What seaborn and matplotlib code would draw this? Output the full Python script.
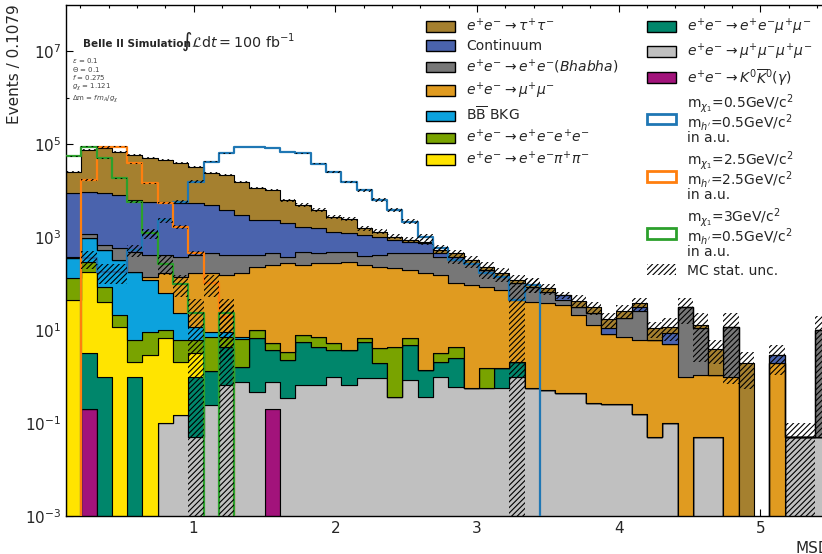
import numpy as np
import pandas as pd
import matplotlib
matplotlib.use("Agg")
import matplotlib.pyplot as plt
from matplotlib.patches import Patch
from matplotlib.ticker import FixedLocator, MultipleLocator, NullFormatter, LogFormatterMathtext
import seaborn as sns

sns.set_style("ticks")
plt.rcParams["font.family"] = ["DejaVu Sans"]
plt.rcParams["mathtext.fontset"] = "dejavusans"
plt.rcParams["hatch.linewidth"] = 0.8
plt.rcParams["hatch.color"] = "black"

HATCH = "//////"

# ---------------------------------------------------------------- binning
x_min = 0.1
bin_width = 0.1079
n_bins = 50
edges = x_min + bin_width * np.arange(n_bins + 1)
centers = 0.5 * (edges[:-1] + edges[1:])
x_range = (float(edges[0]), float(edges[-1]))

# ---------------------------------------------------------------- backgrounds (events per bin)
tautau = [16640, 64900, 72190, 60200, 51650, 43460, 39560, 33190, 27190, 18520,
          17700, 12530, 8980, 7940, 4280, 3210, 2260, 1435, 1240, 440,
          285, 153, 70, 61, 78, 70, 45, 34, 21, 16,
          14, 12, 0, 11.4, 7.9, 6.1, 8.2, 6.7, 4.95, 3.2,
          0, 1.7, 2.9, 0, 1.95, 0, 0, 0, 0, 0]
continuum = [8330, 8260, 8040, 7420, 5770, 5330, 5330, 4930, 4900, 4430,
             3390, 2560, 1910, 1870, 1590, 1190, 1090, 817, 717, 710,
             605, 415, 345, 284, 70, 57, 0, 0, 0, 0,
             0, 0, 12.6, 0, 0, 2.7, 0, 4.8, 0, 3.5,
             0, 0, 0, 0, 0, 0, 0.9, 0, 0, 0]
bhabha = [30, 223, 148, 260, 303, 270, 244, 237, 244, 281,
          258, 244, 181, 197, 105, 233, 175, 211, 188, 140,
          181, 235, 252, 281, 225, 219, 182, 110, 73, 59,
          44, 29, 9.5, 10.6, 10.1, 0, 10.6, 19.9, 0, 0,
          30.6, 10.0, 0, 10.7, 0, 0, 0, 0, 0, 10.0]
mumu = [0, 0, 0, 0, 0, 21, 104, 117, 154, 157,
        143, 159, 219, 245, 269, 242, 265, 267, 291, 243,
        225, 208, 188, 165, 149, 97, 92, 84, 71, 42,
        39.4, 37, 34, 20.6, 12.5, 7.9, 6.9, 5.9, 5.9, 4.9,
        1.0, 1.03, 1.03, 1.0, 0, 0, 1.98, 0, 0, 0]
bbbar = [218, 648, 440, 299, 174, 110, 52, 16.9, 5.7, 1.9,
         1.9, 0.6, 0, 0, 0, 0, 0, 0, 0, 0,
         0, 0, 0, 0, 0, 0, 0, 0, 0, 0,
         0, 0, 0, 0, 0, 0, 0, 0, 0, 0,
         0, 0, 0, 0, 0, 0, 0, 0, 0, 0]
eeee = [85, 110, 44.3, 9.2, 4.0, 6.2, 3.4, 4.0, 2.94, 5.87,
        2.8, 4.7, 3.4, 1.5, 1.12, 2.1, 2.8, 1.5, 0, 1.0,
        2.1, 4.04, 1.85, 0, 1.07, 1.94, 0, 0.94, 0, 0,
        0, 0, 0, 0, 0, 0, 0, 0, 0, 0,
        0, 0, 0, 0, 0, 0, 0, 0, 0, 0]
eepipi = [44, 177, 39.7, 11.8, 1.09, 2.9, 6.5, 1.93, 2.17, 0,
          0, 0, 0, 0, 0, 0, 0, 0, 0, 0,
          0, 0, 0, 0, 0, 0, 0, 0, 0, 0,
          0, 0, 0, 0, 0, 0, 0, 0, 0, 0,
          0, 0, 0, 0, 0, 0, 0, 0, 0, 0]
eemumu = [0, 2.96, 0.99, 0, 0.99, 0, 0, 0, 0.94, 1.09,
          3.74, 0.84, 6.13, 2.92, 1.94, 4.94, 3.74, 2.71, 3.04, 4.7,
          1.0, 0, 3.91, 1.02, 1.08, 1.87, 0, 0, 0.94, 1.09,
          0, 0, 0, 0, 0, 0, 0, 0, 0, 0,
          0, 0, 0, 0, 0, 0, 0, 0, 0, 0]
mumumumu = [0, 0, 0, 0, 0, 0, 0.1, 0.15, 0.05, 0.24,
            0.66, 0.78, 0.47, 0.58, 0.34, 0.66, 0.66, 0.99, 0.66, 0.92,
            0.92, 0.36, 0.84, 0.36, 1.0, 0.59, 0.56, 0.56, 0.56, 0.99,
            0.56, 0.51, 0.45, 0.44, 0.27, 0.26, 0.26, 0.16, 0.05, 0.1,
            0, 0.05, 0.05, 0, 0, 0, 0, 0.05, 0.05, 0.05]
kkbar = [0, 0.2, 0, 0, 0, 0, 0, 0, 0, 0,
         0, 0, 0, 0.2, 0, 0, 0, 0, 0, 0,
         0, 0, 0, 0, 0, 0, 0, 0, 0, 0,
         0, 0, 0, 0, 0, 0, 0, 0, 0, 0,
         0, 0, 0, 0, 0, 0, 0, 0, 0, 0]

# MC statistical uncertainty on the summed background
bkg_unc = [1000, 2800, 3200, 2800, 2500, 2200, 2000, 1700, 1500, 1100,
           1000, 800, 700, 700, 450, 380, 320, 260, 230, 170,
           150, 130, 120, 110, 90, 85, 70, 55, 45, 35,
           35, 21, 10, 14, 10, 6, 8.5, 12.5, 4.2, 6,
           18, 10.7, 2.1, 11, 1.4, 0, 1.8, 0.05, 0.05, 10]

# ---------------------------------------------------------------- signals (a.u.)
sig_05_05 = [0, 355, 180, 180, 525, 1200, 2320, 5750, 15500, 41700,
             63100, 87100, 87100, 81300, 67600, 63100, 38000, 25100, 15500, 10200,
             6310, 3800, 2140, 1020, 575, 320, 269, 166, 141, 44,
             93, 0, 0, 0, 0, 0, 0, 0, 0, 0,
             0, 0, 0, 0, 0, 0, 0, 0, 0, 0]
sig_05_05_unc = [0, 150, 80, 80, 150, 300, 300, 600, 1200, 1500,
                 1200, 1200, 1200, 1200, 1200, 1200, 1200, 1000, 900, 800,
                 550, 380, 250, 150, 100, 60, 55, 40, 35, 44,
                 30, 0, 0, 0, 0, 0, 0, 0, 0, 0,
                 0, 0, 0, 0, 0, 0, 0, 0, 0, 0]
sig_25_25 = [0, 16800, 87500, 87500, 38500, 14300, 5300, 1660, 447, 101,
             19.3, 0, 0, 0, 0, 0, 0, 0, 0, 0,
             0, 0, 0, 0, 0, 0, 0, 0, 0, 0,
             0, 0, 0, 0, 0, 0, 0, 0, 0, 0,
             0, 0, 0, 0, 0, 0, 0, 0, 0, 0]
sig_25_25_unc = [0, 500, 1500, 1500, 1000, 500, 250, 150, 60, 50,
                 17, 0, 0, 0, 0, 0, 0, 0, 0, 0,
                 0, 0, 0, 0, 0, 0, 0, 0, 0, 0,
                 0, 0, 0, 0, 0, 0, 0, 0, 0, 0,
                 0, 0, 0, 0, 0, 0, 0, 0, 0, 0]
sig_3_05 = [55000, 87100, 49000, 18200, 5750, 1200, 269, 100, 23, 0,
            23, 0, 0, 0, 0, 0, 0, 0, 0, 0,
            0, 0, 0, 0, 0, 0, 0, 0, 0, 0,
            0, 0, 0, 0, 0, 0, 0, 0, 0, 0,
            0, 0, 0, 0, 0, 0, 0, 0, 0, 0]
sig_3_05_unc = [1500, 1800, 1300, 700, 300, 200, 120, 50, 23, 0,
                23, 0, 0, 0, 0, 0, 0, 0, 0, 0,
                0, 0, 0, 0, 0, 0, 0, 0, 0, 0,
                0, 0, 0, 0, 0, 0, 0, 0, 0, 0,
                0, 0, 0, 0, 0, 0, 0, 0, 0, 0]

# ---------------------------------------------------------------- labels / colours
bkg_labels = [
    r"$e^{+}e^{-} \rightarrow \tau^{+}\tau^{-}$",
    "Continuum",
    r"$e^{+}e^{-} \rightarrow e^{+}e^{-}(Bhabha)$",
    r"$e^{+}e^{-} \rightarrow \mu^{+}\mu^{-}$",
    r"B$\overline{\mathrm{B}}$ BKG",
    r"$e^{+}e^{-} \rightarrow e^{+}e^{-}e^{+}e^{-}$",
    r"$e^{+}e^{-} \rightarrow e^{+}e^{-}\pi^{+}\pi^{-}$",
    r"$e^{+}e^{-} \rightarrow e^{+}e^{-}\mu^{+}\mu^{-}$",
    r"$e^{+}e^{-} \rightarrow \mu^{+}\mu^{-}\mu^{+}\mu^{-}$",
    r"$e^{+}e^{-} \rightarrow K^{0}\overline{K}^{0}(\gamma)$",
]
bkg_values = [tautau, continuum, bhabha, mumu, bbbar, eeee, eepipi, eemumu, mumumumu, kkbar]
bkg_colors = ["#a5802f", "#4a63ad", "#777777", "#e09b20", "#0ca2dd",
              "#79a300", "#ffe400", "#00866b", "#c0c0c0", "#a2137b"]

sig_labels = [
    "m$_{\\chi_1}$=0.5GeV/c$^2$\nm$_{h'}$=0.5GeV/c$^2$\nin a.u.",
    "m$_{\\chi_1}$=2.5GeV/c$^2$\nm$_{h'}$=2.5GeV/c$^2$\nin a.u.",
    "m$_{\\chi_1}$=3GeV/c$^2$\nm$_{h'}$=0.5GeV/c$^2$\nin a.u.",
]
sig_values = [sig_05_05, sig_25_25, sig_3_05]
sig_uncs = [sig_05_05_unc, sig_25_25_unc, sig_3_05_unc]
sig_colors = ["#1f77b4", "#ff7f0e", "#2ca02c"]

# ---------------------------------------------------------------- figure
W, H = 822, 554
fig = plt.figure(figsize=(W / 100, H / 100), dpi=100)
ax_left, ax_right, ax_bottom, ax_top = 66, 830.5, 516, 4.5
ax = fig.add_axes([ax_left / W, 1 - ax_bottom / H,
                   (ax_right - ax_left) / W, (ax_bottom - ax_top) / H])
ax.set_yscale("log", nonpositive="clip")

df = pd.concat([pd.DataFrame({"mass": centers, "events": vals, "process": lab})
                for lab, vals in zip(bkg_labels, bkg_values)], ignore_index=True)
sns.histplot(data=df, x="mass", weights="events", hue="process",
             hue_order=bkg_labels, palette=dict(zip(bkg_labels, bkg_colors)),
             bins=n_bins, binrange=x_range, multiple="stack", element="step",
             fill=True, alpha=1, edgecolor="black", linewidth=0.8,
             legend=False, ax=ax, zorder=2)


def step_band(lo, hi, **kw):
    lo = np.append(lo, lo[-1])
    hi = np.append(hi, hi[-1])
    ax.fill_between(edges, lo, hi, step="post", facecolor="none",
                    edgecolor="black", linewidth=0, hatch=HATCH, **kw)


total = np.sum(np.array(bkg_values, dtype=float), axis=0)
unc = np.array(bkg_unc, dtype=float)
step_band(np.clip(total - unc, 1e-6, None), total + unc, zorder=4)

for vals, errs, col in zip(sig_values, sig_uncs, sig_colors):
    v = np.array(vals, dtype=float)
    e = np.array(errs, dtype=float)
    sig_df = pd.DataFrame({"mass": centers, "events": v})
    sns.histplot(data=sig_df, x="mass", weights="events", bins=n_bins,
                 binrange=x_range, element="step", fill=False,
                 color=col, linewidth=1.6, ax=ax, zorder=3)
    mask = v > 0
    lo = np.where(mask, np.clip(v - e, 1e-6, None), 1e-6)
    hi = np.where(mask, v + e, 1e-6)
    step_band(lo, hi, zorder=4)

# ---------------------------------------------------------------- axes styling
ax.set_xlim(*x_range)
ax.set_ylim(1e-3, 1e8)
ax.yaxis.set_major_locator(FixedLocator([1e-3, 1e-1, 1e1, 1e3, 1e5, 1e7]))
ax.yaxis.set_major_formatter(LogFormatterMathtext())
ax.yaxis.set_minor_locator(FixedLocator([1e-2, 1e0, 1e2, 1e4, 1e6]))
ax.yaxis.set_minor_formatter(NullFormatter())
ax.xaxis.set_major_locator(MultipleLocator(1))
ax.xaxis.set_minor_locator(MultipleLocator(0.2))
ax.tick_params(which="both", direction="in", top=True, right=True,
               labelsize=11, width=0.8, color="black")
ax.tick_params(which="major", length=5)
ax.tick_params(which="minor", length=2.5)
for sp in ax.spines.values():
    sp.set_color("black")
    sp.set_linewidth(1.0)

ax.set_ylabel("Events / 0.1079", fontsize=11, loc="top")
ax.yaxis.set_label_coords(-0.058, 1.0)
ax.set_xlabel("MSD", fontsize=11, loc="right")

# ---------------------------------------------------------------- legend
handles = [Patch(facecolor=c, edgecolor="black", linewidth=1.0, label=l)
           for l, c in zip(bkg_labels, bkg_colors)]
handles += [Patch(facecolor="white", edgecolor=c, linewidth=2.0, label=l)
            for l, c in zip(sig_labels, sig_colors)]
handles.append(Patch(facecolor="white", edgecolor="black", linewidth=0,
                     hatch=HATCH, label="MC stat. unc."))
leg = ax.legend(handles=handles, ncol=2, loc="upper left",
                bbox_to_anchor=(426 / W, 1 - 17 / H), bbox_transform=fig.transFigure,
                frameon=False, fontsize=10, borderpad=0, borderaxespad=0,
                handlelength=2.1, handleheight=0.8, handletextpad=0.8,
                columnspacing=2.0, labelspacing=0.33)
for t in leg.get_texts():
    t.set_linespacing(0.8)

# ---------------------------------------------------------------- annotations
fig.text(82.7 / W, 1 - 47 / H, "Belle II Simulation", fontsize=7.5,
         fontweight="bold", va="baseline")
fig.text(181 / W, 1 - 47 / H, r"$\int\mathcal{L}\mathrm{d}t = 100$ fb$^{-1}$",
         fontsize=10.3, va="baseline")
fig.text(71.5 / W, 1 - 56 / H,
         "$\\varepsilon$ = 0.1\n$\\Theta$ = 0.1\n$f$ = 0.275\n$g_\\chi$ = 1.121\n"
         "$\\Delta$m = $f m_A/g_\\chi$",
         fontsize=5.0, color="#444444", va="top", linespacing=0.95)

fig.savefig("out.png", dpi=100)
